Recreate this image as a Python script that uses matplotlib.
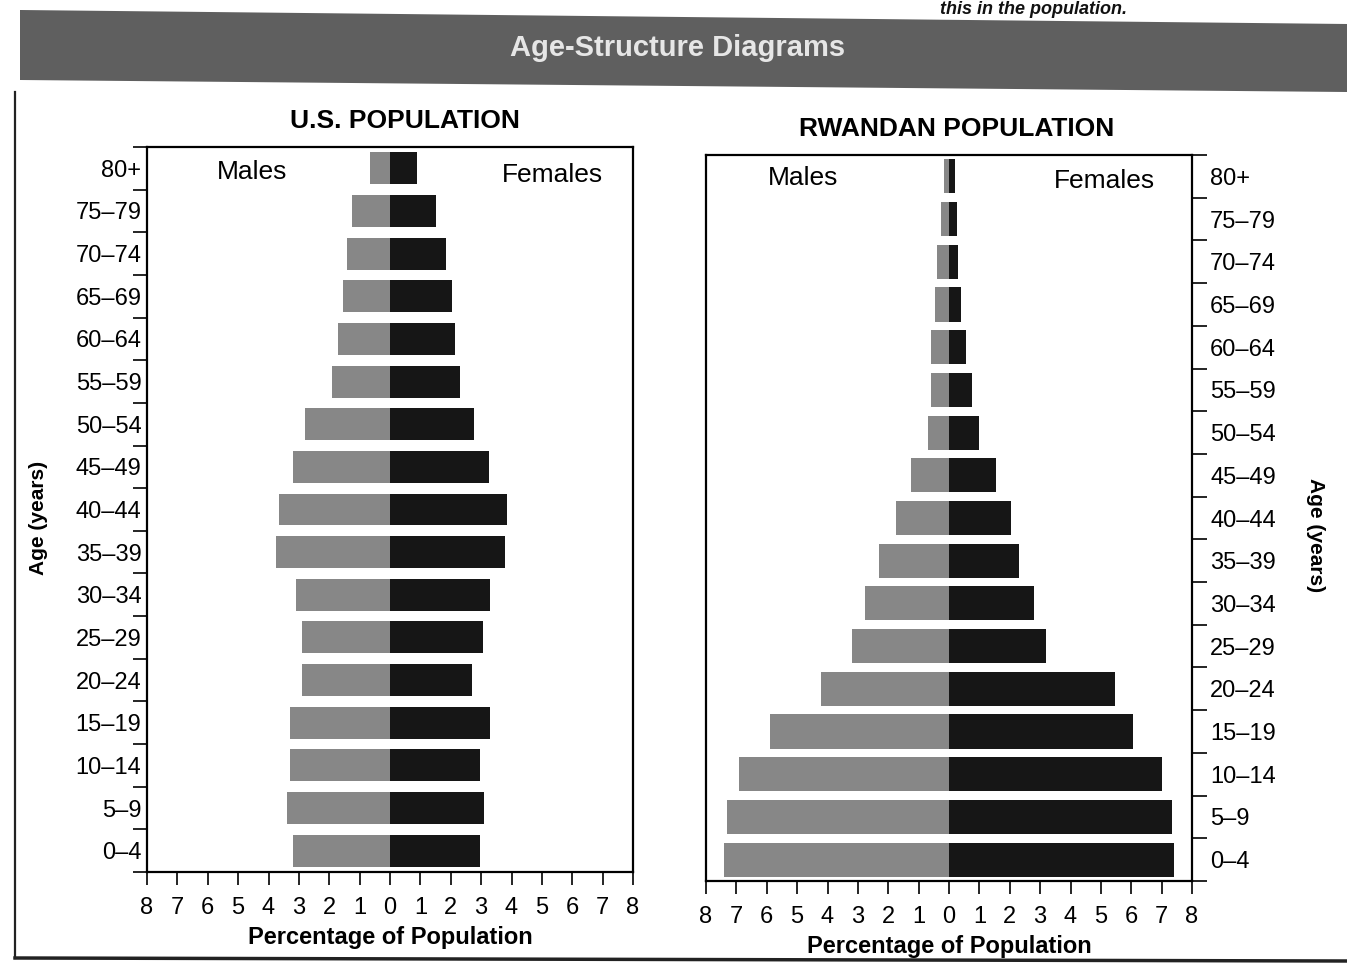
import numpy as np
import matplotlib
matplotlib.use('Agg')
import matplotlib.pyplot as plt
from matplotlib.patches import Polygon
from matplotlib.lines import Line2D

plt.rcParams['font.family'] = ['Liberation Sans', 'DejaVu Sans']

age_groups = ['0–4', '5–9', '10–14', '15–19', '20–24', '25–29', '30–34',
              '35–39', '40–44', '45–49', '50–54', '55–59', '60–64', '65–69',
              '70–74', '75–79', '80+']

# percent of population (youngest first)
us_males = [3.2, 3.4, 3.3, 3.3, 2.9, 2.9, 3.1, 3.75, 3.65, 3.2,
            2.8, 1.9, 1.7, 1.55, 1.4, 1.25, 0.65]
us_females = [2.95, 3.1, 2.95, 3.3, 2.7, 3.05, 3.3, 3.8, 3.85, 3.25,
              2.75, 2.3, 2.15, 2.05, 1.85, 1.5, 0.9]

rw_males = [7.4, 7.3, 6.9, 5.9, 4.2, 3.2, 2.75, 2.3, 1.75, 1.25,
            0.7, 0.6, 0.6, 0.45, 0.4, 0.25, 0.15]
rw_females = [7.4, 7.35, 7.0, 6.05, 5.45, 3.2, 2.8, 2.3, 2.05, 1.55,
              1.0, 0.75, 0.55, 0.4, 0.3, 0.25, 0.2]

x_ticks = list(range(-8, 9))
x_tick_labels = [str(abs(v)) for v in x_ticks]

MALE = '#878787'
FEMALE = '#161616'

W, H = 1347, 966
fig = plt.figure(figsize=(W / 100, H / 100), dpi=100)
fig.patch.set_facecolor('white')


def px(x, y):
    return x / W, 1 - y / H


# header band
band = Polygon([px(20, 10), px(1347, 24), px(1347, 92), px(20, 80)],
               closed=True, transform=fig.transFigure, facecolor='#5f5f5f',
               edgecolor='none', zorder=0)
fig.patches.append(band)
fig.text(*px(678, 48), 'Age-Structure Diagrams', ha='center', va='center',
         fontsize=21, fontweight='bold', color='#e6e6e6')
fig.text(*px(940, 1), 'this in the population.', ha='left', va='top',
         fontsize=13, fontweight='bold', style='italic', color='#111111')

# page border
fig.lines.append(Line2D([15 / W, 15 / W], [1 - 92 / H, 1 - 958 / H],
                        transform=fig.transFigure, color='#222222', lw=1.6))
fig.lines.append(Line2D([15 / W, 1], [1 - 958 / H, 1 - 961 / H],
                        transform=fig.transFigure, color='#222222', lw=2.5))


def pyramid(ax, males, females, bar_h, side):
    y = np.arange(len(age_groups))
    ax.barh(y, [-m for m in males], height=bar_h, color=MALE, edgecolor='none')
    ax.barh(y, females, height=bar_h, color=FEMALE, edgecolor='none')
    ax.set_xlim(-8, 8)
    ax.set_ylim(-0.5, len(age_groups) - 0.5)
    ax.set_xticks(x_ticks)
    ax.set_xticklabels(x_tick_labels, fontsize=17)
    ax.tick_params(axis='x', direction='out', length=9, width=1.2, pad=9)
    ax.set_yticks(y)
    ax.set_yticklabels(age_groups, fontsize=17)
    ax.set_yticks(np.arange(-0.5, len(age_groups), 1), minor=True)
    if side == 'right':
        ax.yaxis.tick_right()
        ax.tick_params(axis='y', which='major', length=0, pad=13)
        ax.tick_params(axis='y', which='minor', length=11, width=1.2,
                       left=False, right=True)
    else:
        ax.tick_params(axis='y', which='major', length=0, pad=4)
        ax.tick_params(axis='y', which='minor', length=10, width=1.2)
    for s in ax.spines.values():
        s.set_linewidth(1.6)
    ax.set_xlabel('Percentage of Population', fontsize=17, fontweight='bold',
                  labelpad=5)


ax1 = fig.add_axes([147 / W, 1 - 872 / H, 486 / W, 725 / H])
pyramid(ax1, us_males, us_females, 0.75, 'left')
ax1.set_title('U.S. POPULATION', fontsize=19, fontweight='bold', pad=14,
              x=0.53)
ax1.text(0.144, 0.966, 'Males', transform=ax1.transAxes, fontsize=19,
         ha='left', va='center')
ax1.text(0.73, 0.962, 'Females', transform=ax1.transAxes, fontsize=19,
         ha='left', va='center')
fig.text(*px(38, 518), 'Age (years)', rotation=90, ha='center', va='center',
         fontsize=15, fontweight='bold')

ax2 = fig.add_axes([706 / W, 1 - 881 / H, 486 / W, 726 / H])
pyramid(ax2, rw_males, rw_females, 0.8, 'right')
ax2.set_title('RWANDAN POPULATION', fontsize=19, fontweight='bold', pad=14,
              x=0.515)
ax2.text(0.128, 0.968, 'Males', transform=ax2.transAxes, fontsize=19,
         ha='left', va='center')
ax2.text(0.716, 0.964, 'Females', transform=ax2.transAxes, fontsize=19,
         ha='left', va='center')
fig.text(*px(1315, 535), 'Age (years)', rotation=-90, ha='center',
         va='center', fontsize=15, fontweight='bold')

fig.savefig('out.png', dpi=100)
